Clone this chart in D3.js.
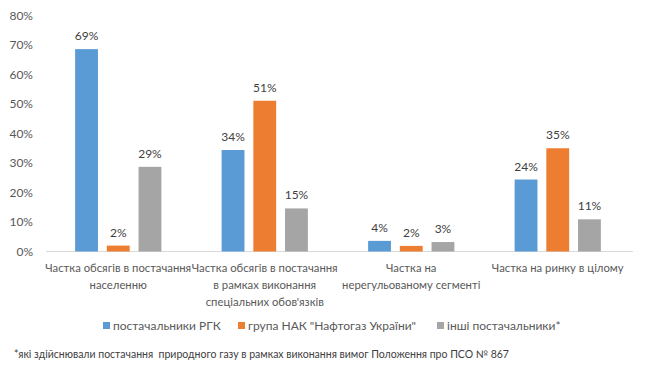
<!DOCTYPE html>
<html><head><meta charset="utf-8">
<script src="https://cdn.jsdelivr.net/npm/d3@7"></script>
<style>body{margin:0;background:#fff}svg{display:block}text{font-family:Lato,"Open Sans",sans-serif}</style>
</head><body><svg id="c" width="661" height="366"></svg>
<script>
const categories = [
  ["Частка обсягів в постачання", "населенню"],
  ["Частка обсягів в постачання", "в рамках виконання", "спеціальних обов'язків"],
  ["Частка на", "нерегульованому сегменті"],
  ["Частка на ринку в цілому"]
];
const categoryKeys = ["c1","c2","c3","c4"];
const seriesNames = ["постачальники РГК", "група НАК \"Нафтогаз України\"", "інші постачальники*"];
const seriesColors = ["#5B9BD5", "#ED7D31", "#A5A5A5"];
const rgk = [68.6, 34.4, 3.6, 24.4];
const naftogaz = [2.0, 51.1, 1.9, 35.0];
const others = [28.7, 14.6, 3.2, 10.9];
const yTicks = [0,10,20,30,40,50,60,70,80];
const footnote = "*які здійснювали постачання  природного газу в рамках виконання вимог Положення про ПСО № 867";

const series = [rgk, naftogaz, others];
const svg = d3.select("#c");
const y = d3.scaleLinear().domain([0,80]).range([251.5,15.5]);
const x0 = d3.scaleBand().domain(categoryKeys).range([45,631]).paddingInner(0).paddingOuter(0);
const x1 = d3.scaleBand().domain([0,1,2]).range([0, x0.bandwidth()]).paddingInner(0.28).paddingOuter(0.95);

// y axis labels
const yAxis = d3.axisLeft(y).tickValues(yTicks).tickFormat(d=>d+"%").tickSize(0).tickPadding(0);
const ya = svg.append("g").attr("transform","translate(33,0)").call(yAxis);
ya.select(".domain").remove();
ya.selectAll("text").attr("fill","#595959").style("font-size","12px").style("font-family","Lato,sans-serif");

// baseline
svg.append("line").attr("x1",46).attr("x2",633).attr("y1",y(0)).attr("y2",y(0)).attr("stroke","#D9D9D9").attr("stroke-width",1);

// bars
const g = svg.append("g");
series.forEach((vals, si) => {
  g.selectAll(".b"+si).data(vals).enter().append("rect")
    .attr("x",(d,i)=>x0(categoryKeys[i])+x1(si))
    .attr("width",x1.bandwidth())
    .attr("y",d=>y(d))
    .attr("height",d=>y(0)-y(d))
    .attr("fill",seriesColors[si]);
  g.selectAll(".l"+si).data(vals).enter().append("text")
    .attr("x",(d,i)=>x0(categoryKeys[i])+x1(si)+x1.bandwidth()/2)
    .attr("y",d=>y(d)-9)
    .attr("text-anchor","middle")
    .attr("fill","#404040").style("font-size","12px")
    .text(d=>Math.round(d)+"%");
});

// category labels
categories.forEach((lines,i)=>{
  const cx = x0(categoryKeys[i]) + x0.bandwidth()/2;
  lines.forEach((ln,j)=>{
    svg.append("text").attr("x",cx).attr("y",272+j*17).attr("text-anchor","middle")
      .attr("fill","#595959").style("font-size","11.3px").text(ln);
  });
});

// legend
const legX = [103, 238, 437];
seriesNames.forEach((n,i)=>{
  svg.append("rect").attr("x",legX[i]).attr("y",322).attr("width",7).attr("height",7).attr("fill",seriesColors[i]);
  svg.append("text").attr("x",legX[i]+10).attr("y",330).attr("fill","#595959").style("font-size","12px").text(n);
});

// footnote
svg.append("text").attr("x",14).attr("y",358).attr("fill","#404040").style("font-size","10.5px").attr("xml:space","preserve").text(footnote);
</script></body></html>
